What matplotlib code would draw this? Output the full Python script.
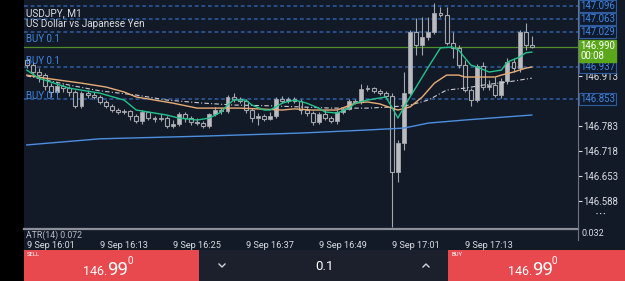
import matplotlib

matplotlib.use("Agg")
import matplotlib.pyplot as plt
import numpy as np
from matplotlib.lines import Line2D
from matplotlib.patches import Rectangle

plt.rcParams["font.family"] = ["Roboto", "DejaVu Sans"]

# USDJPY M1 candles, 9 Sep 16:01 .. 17:24
opens = [146.955, 146.942, 146.924, 146.916, 146.888, 146.872, 146.888, 146.882, 146.872, 146.836,
         146.869, 146.864, 146.859, 146.846, 146.836, 146.825, 146.820, 146.823, 146.809, 146.796,
         146.820, 146.804, 146.802, 146.804, 146.783, 146.789, 146.815, 146.804, 146.794, 146.791,
         146.783, 146.815, 146.825, 146.823, 146.859, 146.854, 146.849, 146.825, 146.804, 146.809,
         146.802, 146.809, 146.854, 146.849, 146.854, 146.849, 146.825, 146.817, 146.794, 146.815,
         146.804, 146.796, 146.820, 146.828, 146.849, 146.846, 146.880, 146.882, 146.875, 146.869,
         146.862, 146.664, 146.739, 146.869, 147.028, 146.994, 147.015, 147.028, 147.078, 147.073,
         147.000, 146.987, 146.942, 146.877, 146.851, 146.940, 146.885, 146.890, 146.864, 146.901,
         146.950, 146.934, 147.028, 146.994]
highs = [146.963, 146.950, 146.934, 146.921, 146.895, 146.895, 146.893, 146.888, 146.877, 146.875,
         146.877, 146.872, 146.864, 146.851, 146.841, 146.830, 146.828, 146.825, 146.815, 146.825,
         146.823, 146.809, 146.815, 146.809, 146.799, 146.820, 146.820, 146.809, 146.804, 146.796,
         146.817, 146.833, 146.830, 146.864, 146.869, 146.859, 146.854, 146.830, 146.817, 146.815,
         146.820, 146.859, 146.862, 146.859, 146.859, 146.854, 146.833, 146.823, 146.820, 146.825,
         146.809, 146.825, 146.833, 146.854, 146.854, 146.893, 146.890, 146.885, 146.880, 146.875,
         146.869, 146.747, 146.924, 147.033, 147.065, 147.067, 147.067, 147.104, 147.093, 147.093,
         147.028, 146.994, 146.955, 146.882, 146.945, 146.950, 146.903, 146.911, 146.908, 146.961,
         146.961, 147.033, 147.052, 147.018]
lows = [146.934, 146.914, 146.898, 146.877, 146.859, 146.867, 146.872, 146.862, 146.830, 146.830,
        146.856, 146.854, 146.841, 146.830, 146.820, 146.815, 146.815, 146.799, 146.791, 146.789,
        146.799, 146.794, 146.796, 146.778, 146.778, 146.783, 146.794, 146.786, 146.786, 146.778,
        146.778, 146.809, 146.815, 146.817, 146.846, 146.843, 146.817, 146.794, 146.786, 146.796,
        146.799, 146.804, 146.843, 146.843, 146.843, 146.815, 146.809, 146.786, 146.789, 146.799,
        146.791, 146.789, 146.815, 146.825, 146.841, 146.841, 146.875, 146.869, 146.864, 146.856,
        146.520, 146.638, 146.721, 146.864, 146.968, 146.968, 147.007, 147.023, 147.067, 146.994,
        146.961, 146.934, 146.872, 146.836, 146.846, 146.877, 146.877, 146.859, 146.856, 146.893,
        146.924, 146.924, 146.981, 146.987]
closes = [146.942, 146.924, 146.916, 146.888, 146.872, 146.888, 146.882, 146.872, 146.836, 146.869,
          146.864, 146.859, 146.846, 146.836, 146.825, 146.820, 146.823, 146.809, 146.796, 146.820,
          146.804, 146.802, 146.804, 146.783, 146.789, 146.815, 146.804, 146.794, 146.791, 146.783,
          146.815, 146.825, 146.823, 146.859, 146.854, 146.849, 146.825, 146.804, 146.809, 146.802,
          146.809, 146.854, 146.849, 146.854, 146.849, 146.825, 146.817, 146.794, 146.815, 146.804,
          146.796, 146.820, 146.828, 146.849, 146.846, 146.880, 146.882, 146.875, 146.869, 146.862,
          146.664, 146.739, 146.869, 147.028, 146.994, 147.015, 147.028, 147.078, 147.073, 147.000,
          146.987, 146.942, 146.877, 146.851, 146.940, 146.885, 146.890, 146.864, 146.901, 146.950,
          146.934, 147.028, 146.994, 146.990]

time_ticks = [0, 12, 24, 36, 48, 60, 72]
time_labels = ["9 Sep 16:01", "9 Sep 16:13", "9 Sep 16:25", "9 Sep 16:37",
               "9 Sep 16:49", "9 Sep 17:01", "9 Sep 17:13"]

# moving averages at a subset of candles
fast_idx = [0, 2, 7, 12, 16, 18, 23, 25, 28, 30, 32, 33, 34, 36, 37, 39, 40, 42, 44, 46, 48, 49,
            51, 53, 54, 56, 59, 60, 61, 62, 66, 68, 70, 71, 72, 73, 74, 76, 78, 79, 81, 82, 83]
fast_ma = [146.929, 146.908, 146.882, 146.869, 146.851, 146.825, 146.812, 146.804, 146.799, 146.804,
           146.820, 146.838, 146.851, 146.851, 146.838, 146.825, 146.825, 146.843, 146.851, 146.843,
           146.830, 146.820, 146.817, 146.830, 146.843, 146.851, 146.859, 146.833, 146.804, 146.833,
           146.937, 146.987, 146.989, 146.981, 146.961, 146.942, 146.937, 146.924, 146.929, 146.950,
           146.963, 146.974, 146.976]
mid_idx = [0, 3, 9, 13, 16, 18, 21, 24, 28, 30, 32, 35, 38, 42, 44, 47, 51, 54, 56, 58, 60, 61,
           63, 65, 67, 69, 71, 72, 77, 78, 80, 82, 83]
mid_ma = [146.916, 146.908, 146.895, 146.885, 146.872, 146.859, 146.851, 146.843, 146.830, 146.830,
          146.830, 146.830, 146.828, 146.825, 146.828, 146.825, 146.825, 146.843, 146.846, 146.841,
          146.830, 146.825, 146.833, 146.859, 146.895, 146.916, 146.916, 146.911, 146.911, 146.916,
          146.924, 146.934, 146.937]
slow_idx = [0, 7, 12, 18, 23, 29, 34, 40, 45, 50, 56, 60, 63, 66, 69, 72, 75, 79, 83]
slow_ma = [146.914, 146.890, 146.875, 146.864, 146.851, 146.843, 146.838, 146.836, 146.833, 146.830,
           146.830, 146.833, 146.838, 146.851, 146.877, 146.882, 146.890, 146.898, 146.908]
long_idx = [0, 12, 29, 45, 56, 62, 66, 72, 83]
long_ma = [146.734, 146.750, 146.757, 146.765, 146.773, 146.778, 146.791, 146.799, 146.812]

order_levels = [147.096, 147.063, 147.029, 146.937, 146.853]
order_label_prices = [147.029, 146.937, 146.853]
last_price = 146.990
last_timer = "00:08"
axis_ticks = [146.588, 146.653, 146.718, 146.783, 146.913]
atr_value = 0.072
atr_axis = 0.032
lot_size = 0.1

W, H = 625, 281
PX = 383.9  # pixels per price unit on the main panel
BG = "#131a27"
PANEL = "#1b202c"
RED = "#e8494e"
GREY = "#8b9099"
TEXT = "#d9dce2"
BLUE_TXT = "#3f87e3"


def fx(px):
    return px / W


def fy(py):
    return 1 - py / H


fig = plt.figure(figsize=(W / 100, H / 100), dpi=100, facecolor="black")
fig.add_artist(Rectangle((fx(24), 0), 1 - fx(24), 1, transform=fig.transFigure, fc=BG, ec="none", zorder=0))

ax = fig.add_axes([fx(24), fy(228), 554 / W, 228 / H])
ax.set_facecolor(BG)
for s in ax.spines.values():
    s.set_visible(False)
ax.set_xlim(-0.45, 90.6)
ax.set_ylim(146.5177, 147.1116)

# candles: bullish filled, bearish hollow
o, h, l, c = map(np.asarray, (opens, highs, lows, closes))
idx = np.arange(len(o))
up = c >= o
ax.vlines(idx, l, h, color="#a3a6ab", lw=0.8, zorder=3)
ax.bar(idx[up], c[up] - o[up], bottom=o[up], width=0.64, color="#b9bbbf", edgecolor="#a3a6ab", lw=0.6, zorder=4)
ax.bar(idx[~up], c[~up] - o[~up], bottom=o[~up], width=0.64, color=BG, edgecolor="#a3a6ab", lw=0.8, zorder=4)

# indicators
ax.plot(long_idx, long_ma, color="#4c8fe2", lw=1.0, zorder=5)
ax.plot(slow_idx, slow_ma, color="#c9ccd2", lw=0.8, ls=(0, (4, 2, 1, 2)), zorder=5)
ax.plot(mid_idx, mid_ma, color="#e9ad74", lw=1.0, zorder=5)
ax.plot(fast_idx, fast_ma, color="#21c38b", lw=1.0, zorder=6)

# order lines + last price
for lvl in order_levels:
    ax.axhline(lvl, color="#2d5da3", lw=1.1, ls=(0, (2.5, 1.8)), zorder=2)
ax.axhline(last_price, color="#4f8d28", lw=0.9, zorder=2)

# price axis on the right
ax.yaxis.tick_right()
ax.set_yticks(axis_ticks)
ax.set_yticklabels([f"{t:.3f}" for t in axis_ticks])
ax.tick_params(axis="y", colors=TEXT, labelsize=6.9, length=3, width=0.8, pad=1)
for lvl in order_levels:
    ax.text(1.004, lvl, f"{lvl:.3f}", transform=ax.get_yaxis_transform(), ha="left", va="center",
            fontsize=6.9, color=BLUE_TXT, zorder=8, clip_on=False,
            bbox=dict(boxstyle="square,pad=0.1", fc="#0f1a2d", ec="#2d5ca0", lw=0.8))
ax.text(1.004, last_price + 6 / PX, f"{last_price:.3f}\n{last_timer}", transform=ax.get_yaxis_transform(),
        ha="left", va="top", fontsize=6.9, color="white", linespacing=1.0, zorder=9, clip_on=False,
        bbox=dict(boxstyle="square,pad=0.12", fc="#5ba71b", ec="#5ba71b"))

# time axis
ax.set_xticks(time_ticks)
ax.set_xticklabels(time_labels)
ax.tick_params(axis="x", colors=TEXT, labelsize=6.6, length=0, pad=9)
for lbl in ax.get_xticklabels():
    lbl.set_ha("left")

# header + order labels on the left
ax.text(0.004, 0.94, "USDJPY, M1", transform=ax.transAxes, fontsize=7.2, color=TEXT, va="center")
ax.text(0.004, 0.895, "US Dollar vs Japanese Yen", transform=ax.transAxes, fontsize=7.2, color=TEXT, va="center")
for lvl, dy in zip(order_label_prices, [-7, 6, 3]):
    ax.text(0.004, lvl + dy / PX, f"BUY {lot_size}", fontsize=7, color=BLUE_TXT, va="center",
            transform=ax.get_yaxis_transform(), zorder=7)

# separators and ATR strip
fig.add_artist(Line2D([fx(24), fx(578)], [fy(229), fy(229)], color=GREY, lw=1.6))
fig.add_artist(Line2D([fx(578), fx(578)], [fy(0), fy(240)], color="#6f747d", lw=0.8))
fig.text(fx(26), fy(235), f"ATR(14) {atr_value:.3f}", fontsize=6.3, color="#b8bcc4", va="center")
fig.text(fx(581), fy(234), f"{atr_axis:.3f}", fontsize=6.5, color=TEXT, va="center")
fig.text(fx(601), fy(215), "\u2022 \u2022 \u2022", fontsize=4.5, color="white", ha="center", va="center")

# order buttons
fig.add_artist(Rectangle((fx(24), 0), fx(199) - fx(24), fy(250), transform=fig.transFigure, fc=RED, ec="none"))
fig.add_artist(Rectangle((fx(199), 0), fx(448) - fx(199), fy(250), transform=fig.transFigure, fc=PANEL, ec="none"))
fig.add_artist(Rectangle((fx(448), 0), 1 - fx(448), fy(250), transform=fig.transFigure, fc=RED, ec="none"))
fig.text(fx(27), fy(255), "SELL", fontsize=4.2, color="white", va="center")
fig.text(fx(451), fy(255), "BUY", fontsize=4.2, color="white", va="center")
for x0 in (107, 532):
    fig.text(fx(x0), fy(275), "146.", fontsize=9, color="white", ha="right", va="baseline")
    fig.text(fx(x0), fy(275), "99", fontsize=13.5, color="white", ha="left", va="baseline")
    fig.text(fx(x0 + 20), fy(264), "0", fontsize=7, color="white", ha="left", va="baseline")

# lot stepper chevrons
fig.add_artist(Line2D([fx(219), fx(222), fx(225)], [fy(264), fy(267), fy(264)], color="#d0d3d9", lw=1.0))
fig.add_artist(Line2D([fx(423), fx(426), fx(429)], [fy(267), fy(264), fy(267)], color="#d0d3d9", lw=1.0))
fig.text(fx(324), fy(266), f"{lot_size}", fontsize=9.5, color="white", ha="center", va="center")

fig.savefig("out.png", dpi=100, facecolor=fig.get_facecolor())
